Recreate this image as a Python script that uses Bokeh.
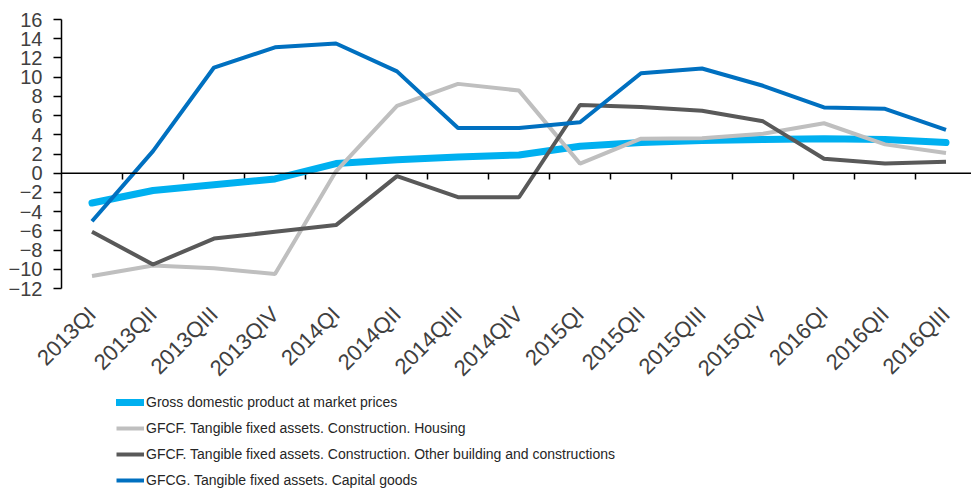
from math import pi
from bokeh.plotting import figure
from bokeh.layouts import column
from bokeh.models import Range1d, FixedTicker, Span, Legend, LegendItem
from bokeh.embed import file_html
from bokeh.resources import INLINE

quarters = ["2013QI", "2013QII", "2013QIII", "2013QIV",
            "2014QI", "2014QII", "2014QIII", "2014QIV",
            "2015QI", "2015QII", "2015QIII", "2015QIV",
            "2016QI", "2016QII", "2016QIII"]
gdp = [-3.1, -1.8, -1.2, -0.6, 1.0, 1.4, 1.7, 1.9, 2.8, 3.2, 3.4, 3.5, 3.6, 3.5, 3.2]
housing = [-10.7, -9.6, -9.9, -10.5, 0.2, 7.0, 9.3, 8.6, 1.0, 3.6, 3.65, 4.1, 5.2, 3.0, 2.1]
other_bldg = [-6.1, -9.5, -6.8, -6.1, -5.4, -0.3, -2.5, -2.5, 7.1, 6.9, 6.5, 5.4, 1.5, 1.0, 1.2]
capital = [-5.0, 2.3, 11.0, 13.1, 13.5, 10.6, 4.7, 4.7, 5.3, 10.4, 10.9, 9.1, 6.85, 6.7, 4.5]
y_ticks = list(range(-12, 17, 2))

names = ["Gross domestic product at market prices",
         "GFCF. Tangible fixed assets. Construction. Housing",
         "GFCF. Tangible fixed assets. Construction. Other building and constructions",
         "GFCG. Tangible fixed assets. Capital goods"]
colors = ["#00B0F0", "#BFBFBF", "#595959", "#0070C0"]
widths = [7, 4, 4, 4]
series = [gdp, housing, other_bldg, capital]

x = list(range(len(quarters)))

p = figure(width=971, height=393, output_backend="svg", toolbar_location=None,
           x_range=Range1d(-0.5, -0.5 + 910 / 61), y_range=Range1d(-12, 16),
           min_border_left=61, min_border_right=0, min_border_top=19,
           min_border_bottom=105)
p.outline_line_color = None
p.xgrid.visible = False
p.ygrid.visible = False

# x axis: labels only
p.xaxis.ticker = FixedTicker(ticks=x)
p.xaxis.major_label_overrides = {i: q for i, q in enumerate(quarters)}
p.xaxis.major_label_orientation = pi / 4
p.xaxis.axis_line_color = None
p.xaxis.major_tick_line_color = None
p.xaxis.minor_tick_line_color = None
p.xaxis.major_tick_out = 0
p.xaxis.major_label_standoff = 22
p.xaxis.major_label_text_font = "Liberation Sans"
p.xaxis.major_label_text_font_size = "22px"
p.xaxis.major_label_text_color = "#404040"

# y axis
p.yaxis.ticker = FixedTicker(ticks=y_ticks)
p.yaxis.axis_line_color = "black"
p.yaxis.axis_line_width = 1.5
p.yaxis.major_tick_line_color = "black"
p.yaxis.major_tick_line_width = 1.5
p.yaxis.major_tick_in = 0
p.yaxis.major_tick_out = 8
p.yaxis.minor_tick_line_color = None
p.yaxis.major_label_standoff = 11
p.yaxis.major_label_text_font = "Liberation Sans"
p.yaxis.major_label_text_font_size = "20px"
p.yaxis.major_label_text_color = "#404040"

# zero line with category boundary ticks
p.add_layout(Span(location=0, dimension="width", line_color="black", line_width=1.5))
bounds = [i + 0.5 for i in x[:-1]]
p.segment(x0=bounds, y0=[0] * len(bounds), x1=bounds, y1=[-0.65] * len(bounds),
          line_color="black", line_width=1.5)

for s, c, w in zip(series, colors, widths):
    p.line(x, s, line_color=c, line_width=w, line_cap="round" if w > 5 else "butt")

# legend panel (swatch renderers carry the same series, kept out of this panel's view)
lg = figure(width=971, height=102, output_backend="svg", toolbar_location=None,
            x_range=Range1d(0, 1), y_range=Range1d(100, 101),
            min_border_left=0, min_border_right=0, min_border_top=0, min_border_bottom=0)
lg.outline_line_color = None
lg.axis.visible = False
lg.grid.visible = False
swatches = [lg.line(x, s, line_color=c, line_width=w,
                    line_cap="round" if w > 5 else "butt")
            for s, c, w in zip(series, colors, widths)]

legend = Legend(items=[LegendItem(label=n, renderers=[r]) for n, r in zip(names, swatches)],
                location=(55, 2), orientation="vertical")
legend.label_text_font = "Liberation Sans"
legend.label_text_font_size = "14px"
legend.label_text_color = "#262626"
legend.glyph_width = 28
legend.glyph_height = 26
legend.label_height = 26
legend.spacing = 0
legend.padding = 0
legend.margin = 0
legend.label_standoff = 2
legend.border_line_color = None
legend.background_fill_alpha = 0
lg.add_layout(legend, "center")

open("out.html", "w").write(file_html(column(p, lg, spacing=0), INLINE))
